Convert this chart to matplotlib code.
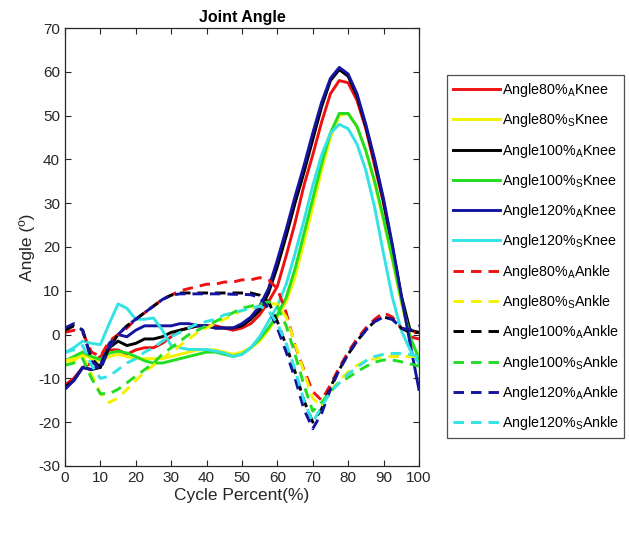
import numpy as np
import matplotlib
matplotlib.use('Agg')
import matplotlib.pyplot as plt

# gait cycle percent (x axis)
cycle_pct = [0, 2.5, 5, 7.5, 10, 12.5, 15, 17.5, 20, 22.5, 25, 27.5, 30, 32.5, 35, 37.5, 40,
             42.5, 45, 47.5, 50, 52.5, 55, 57.5, 60, 62.5, 65, 67.5, 70, 72.5, 75, 77.5, 80,
             82.5, 85, 87.5, 90, 92.5, 95, 97.5, 100]

# knee angles (deg)
knee_80_a = [-11.5, -10, -7.5, -6.5, -5, -3.5, -3.5, -4.5, -3.5, -3, -3, -2, -0.5, 1, 1.5, 2, 2,
             2, 1.5, 1, 1.5, 2.5, 4.5, 7.5, 11, 18, 25.5, 34, 41, 48.5, 55, 58, 57.5,
             53.5, 47, 38.5, 30, 19.5, 8.5, -0.5, -1]
knee_80_s = [-7, -6, -4.5, -5.5, -6, -5, -4.5, -5, -5.5, -5.5, -5.5, -5.5, -5, -4.5, -4, -3.5, -3.5,
             -3.5, -4, -4.5, -4, -3, -1.5, 1, 4, 7.5, 13, 21, 29, 37.5, 45, 50, 50.5,
             47.5, 42, 34.5, 26, 17, 7.5, -1, -5]
knee_100_a = [-12, -10.5, -7.5, -8, -7.5, -3, -1.5, -2.5, -2, -1, -1, -0.5, 0.5, 1, 1.5, 2, 2,
              1.5, 1.5, 1.5, 2, 3.5, 5.5, 9.5, 15.5, 22.5, 30, 37, 44.5, 52, 58, 60.5, 59,
              54.5, 47.5, 39.5, 30.5, 20, 9, 1, 0.5]
knee_100_s = [-6, -5, -4, -5, -5.7, -4.2, -3.8, -4.2, -5, -6, -6.5, -6.5, -6, -5.5, -5, -4.5, -4,
              -4, -4.5, -5, -4.5, -3, -1, 1.5, 4.5, 8.5, 15, 23, 31, 39, 46, 50.5, 50.5,
              47.5, 42, 35, 26.5, 17.5, 8, -0.5, -5.5]
knee_120_a = [-12.5, -10.5, -7.5, -8, -7, -2, 0, -0.5, 1, 2, 2, 2, 2, 2.5, 2.5, 2, 2,
              1.5, 1.5, 1.5, 2.5, 4, 6.5, 10.5, 17, 24, 31.5, 38.5, 46, 53, 58.5, 61, 59.5,
              55, 48, 40, 31, 20.5, 9, -2, -12.5]
knee_120_s = [-4.2, -3, -1.5, -2, -2.3, 2.5, 7, 6, 3.5, 3.5, 3.8, 1, -2.5, -3, -3.4, -3.4, -3.4,
              -3.8, -4.2, -5, -4.5, -3, -0.5, 3, 6.5, 11.5, 18.5, 26, 34, 41, 46, 48, 47,
              43.5, 37.5, 29, 18.5, 8.5, 1, -3.5, -6.5]

# ankle angles (deg)
ankle_80_a = [0.5, 1, 0.5, -4, -5, -1.5, 0, 1.5, 3.5, 5, 6.5, 8, 9, 10, 10.5, 11, 11.5,
              11.5, 12, 12, 12.5, 12.5, 13, 12.5, 10.5, 5, -2.5, -8, -13, -15, -11.5, -7.5, -4,
              -1, 1.5, 3.5, 5, 4, 1.5, 0.5, 0.5]
ankle_80_s = [-6, -5.5, -5, -9, -13.5, -15.5, -14.5, -12.5, -10.5, -8.5, -7, -5.5, -4, -2.5, -1, 0.5, 1.5,
              2.5, 3.5, 4.5, 5.5, 6, 6.5, 7, 7, 4, -2, -8.5, -14.5, -16.5, -13, -10.5, -8.5,
              -7, -6, -5.5, -5, -5, -5, -5, -5]
ankle_100_a = [1, 2, 1, -5.5, -7.5, -3, 0, 2, 3.5, 5, 6.5, 8, 9, 9.5, 9.5, 9.5, 9.5,
               9.5, 9.5, 9.5, 9.5, 9.5, 9, 7.5, 3, -2.5, -8.5, -15, -20, -17, -12, -8, -4.5,
               -1.5, 1, 3, 4, 3.5, 1.5, 0.5, 0.5]
ankle_100_s = [-7, -6.5, -5.5, -10, -13.5, -13.5, -12.5, -11, -9.5, -8, -6.5, -4.5, -3, -1.5, 0, 1, 2,
               3, 4, 5, 6, 6.5, 7, 7.5, 6.5, 2, -4.5, -11.5, -17.5, -15.5, -13, -11, -9.8,
               -8.5, -7.3, -6.3, -5.8, -5.8, -6.2, -6.7, -7.2]
ankle_120_a = [1.5, 2.5, 1, -6, -8, -3, 0, 2, 3.5, 5, 6.5, 8, 9, 9.3, 9.3, 9.3, 9.3,
               9.3, 9.3, 9.2, 9.2, 9.1, 8.5, 6, 1.5, -4, -10, -17, -21.5, -18, -12.5, -8, -4.5,
               -1.5, 1, 3, 4, 3.5, 1.5, 1, 2]
ankle_120_s = [-4, -3.5, -2.5, -7, -10, -9.5, -8, -6.5, -5.5, -4, -3, -1.5, -0.5, 0.5, 1.5, 2.5, 3,
               3.5, 4.5, 5, 5.5, 6, 6.5, 5.5, 2.5, -2, -8, -15, -20, -16.5, -13, -11, -9,
               -7.5, -6, -5, -4.5, -4.3, -4.3, -4.5, -5]

labels = ['Angle80%$_\\mathrm{A}$Knee', 'Angle80%$_\\mathrm{S}$Knee',
          'Angle100%$_\\mathrm{A}$Knee', 'Angle100%$_\\mathrm{S}$Knee',
          'Angle120%$_\\mathrm{A}$Knee', 'Angle120%$_\\mathrm{S}$Knee',
          'Angle80%$_\\mathrm{A}$Ankle', 'Angle80%$_\\mathrm{S}$Ankle',
          'Angle100%$_\\mathrm{A}$Ankle', 'Angle100%$_\\mathrm{S}$Ankle',
          'Angle120%$_\\mathrm{A}$Ankle', 'Angle120%$_\\mathrm{S}$Ankle']

# matlab-ish colours, one per speed/condition
colors = ['#ee1111', '#f2f200', '#000000', '#22dd22', '#1414a0', '#33e3e3']

plt.rcParams['font.family'] = ['Liberation Sans', 'DejaVu Sans']
plt.rcParams['mathtext.fontset'] = 'custom'
plt.rcParams['mathtext.rm'] = 'Liberation Sans'
plt.rcParams['axes.unicode_minus'] = False

fig = plt.figure(figsize=(6.29, 5.45), dpi=100)
ax = fig.add_axes([0.1033, 0.145, 0.5627, 0.8036])

knees = [knee_80_a, knee_80_s, knee_100_a, knee_100_s, knee_120_a, knee_120_s]
ankles = [ankle_80_a, ankle_80_s, ankle_100_a, ankle_100_s, ankle_120_a, ankle_120_s]

for i, (series, color) in enumerate(zip(knees, colors)):
    ax.plot(cycle_pct, series, color=color, linewidth=2.1, label=labels[i],
            solid_joinstyle='round')
for i, (series, color) in enumerate(zip(ankles, colors)):
    ax.plot(cycle_pct, series, color=color, linewidth=2.1, label=labels[i + 6],
            linestyle=(0, (3.6, 2.4)), dash_joinstyle='round')

ax.set_xlim(0, 100)
ax.set_ylim(-30, 70)
ax.set_xticks(np.arange(0, 101, 10))
ax.set_yticks(np.arange(-30, 71, 10))
ax.tick_params(direction='in', top=True, right=True, labelsize=11,
               colors='#262626', length=4, width=0.8)
for spine in ax.spines.values():
    spine.set_color('#262626')
    spine.set_linewidth(0.9)

ax.set_title('Joint Angle', fontsize=11.5, fontweight='bold', pad=4)
ax.set_xlabel('Cycle Percent(%)', fontsize=12.5, color='#262626', labelpad=2)
ax.set_ylabel('Angle (º)', fontsize=12.5, color='#262626', labelpad=2)

legend = ax.legend(loc='upper left', bbox_to_anchor=(0.711, 0.862),
                   bbox_transform=fig.transFigure, borderaxespad=0,
                   fontsize=10.3, frameon=True, fancybox=False,
                   edgecolor='#262626', handlelength=3.3, handletextpad=0.1,
                   labelspacing=0.86, borderpad=0.4)
legend.get_frame().set_linewidth(0.9)

fig.savefig('out.png', dpi=100)
